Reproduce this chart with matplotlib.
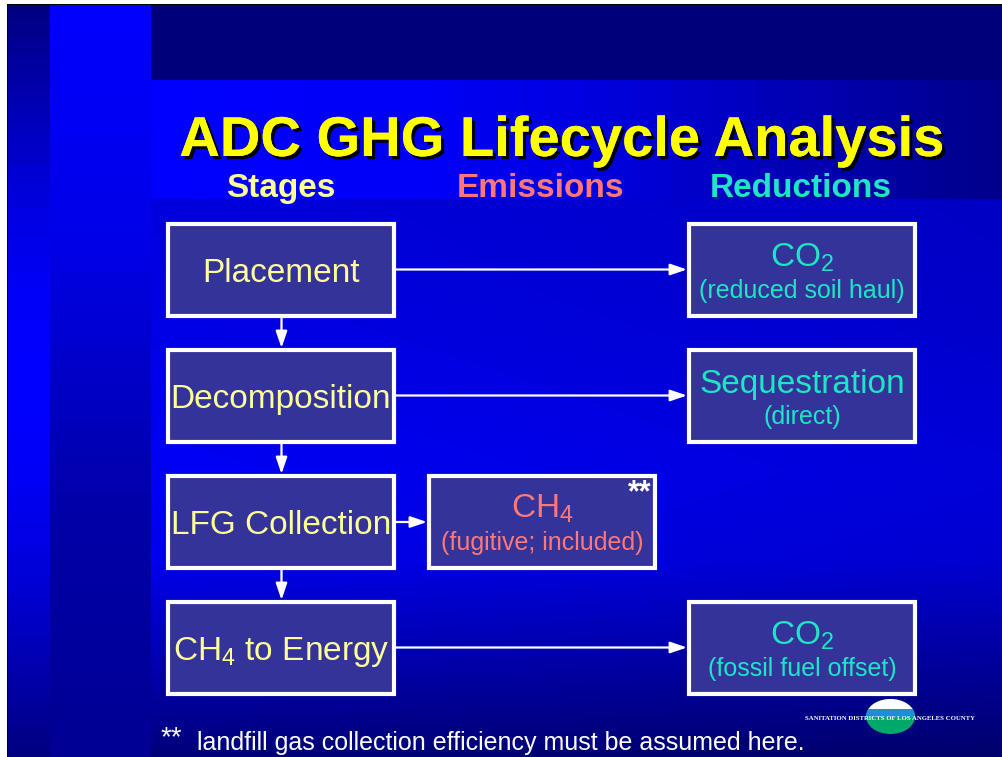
import numpy as np
import matplotlib
matplotlib.use('Agg')
import matplotlib.pyplot as plt
from matplotlib.patches import Rectangle, Ellipse
import matplotlib.patheffects as pe

plt.rcParams['font.family'] = ['Liberation Sans', 'DejaVu Sans']
plt.rcParams['mathtext.fontset'] = 'custom'
plt.rcParams['mathtext.rm'] = 'Liberation Sans'
plt.rcParams['mathtext.it'] = 'Liberation Sans:italic'
plt.rcParams['mathtext.bf'] = 'Liberation Sans:bold'
plt.rcParams['mathtext.default'] = 'regular'

# ---------------- content ----------------
title = "ADC GHG Lifecycle Analysis"
column_headers = ["Stages", "Emissions", "Reductions"]
header_colors = ["#FFFF99", "#FF7777", "#1EE6C4"]
stage_labels = ["Placement", "Decomposition", "LFG Collection", "CH$_4$ to Energy"]
emission_rows = [2]
emission_main = ["CH$_4$"]
emission_sub = ["(fugitive; included)"]
reduction_rows = [0, 1, 3]
reduction_main = ["CO$_2$", "Sequestration", "CO$_2$"]
reduction_sub = ["(reduced soil haul)", "(direct)", "(fossil fuel offset)"]
footnote_mark = "**"
footnote = "landfill gas collection efficiency must be assumed here."
logo_text = "SANITATION DISTRICTS OF LOS ANGELES COUNTY"

# ---------------- layout / style ----------------
W, H = 1003, 757
row_tops = [222, 348, 474, 600]
col_lefts = [166, 427, 687]
box_w, box_h = 230, 96
box_fill = "#333399"
stage_color = "#FFFF99"
emis_color = "#FF7777"
red_color = "#1EE6C4"

fig = plt.figure(figsize=(W / 100, H / 100), dpi=100)
ax = fig.add_axes([0, 0, 1, 1])
ax.set_xlim(0, W)
ax.set_ylim(H, 0)
ax.axis('off')

# ---------------- background ----------------
yy = np.arange(H)[:, None] + 0.5
xx = np.arange(W)[None, :] + 0.5
b = np.zeros((H, W))
left_strip = 128 + 127 * np.sin(np.pi * (yy - 4) / 753)
mid_strip = np.interp(yy, [0, 240, 500, 757], [255, 232, 170, 148])
top_band = np.full((H, 1), 122.0)
title_band = np.interp(xx, [151, 420, 600, 800, 1003], [255, 248, 222, 180, 138])
main = np.interp(yy, [199, 300, 470, 560, 757], [222, 228, 246, 236, 122]) * (1 - 0.12 * (xx - 151) / 852)

Y = np.broadcast_to(yy, (H, W))
X = np.broadcast_to(xx, (H, W))
b = np.where(X < 50, np.broadcast_to(left_strip, (H, W)), b)
b = np.where((X >= 50) & (X < 151), np.broadcast_to(mid_strip, (H, W)), b)
b = np.where((X >= 151) & (Y < 80), np.broadcast_to(top_band, (H, W)), b)
b = np.where((X >= 151) & (Y >= 80) & (Y < 199), np.broadcast_to(title_band, (H, W)), b)
b = np.where((X >= 151) & (Y >= 199), main, b)

img = np.zeros((H, W, 3))
img[..., 2] = np.clip(b, 0, 255) / 255.0
img[:4, :, :] = 1.0
img[:, :7, :] = 1.0
img[4, 7:, :] = 0.0
img[4:, 7, :] = 0.0
ax.imshow(img, extent=(0, W, H, 0), interpolation='nearest', aspect='auto', zorder=0)

# ---------------- title ----------------
ax.text(562, 156, title, color="#FFFF00", fontsize=40.4, fontweight='bold',
        ha='center', va='baseline', zorder=5,
        path_effects=[pe.withSimplePatchShadow(offset=(2.3, -2.3), shadow_rgbFace='black', alpha=1.0), pe.Normal()])
for cx, txt, col in zip([281, 541, 801], column_headers, header_colors):
    ax.text(cx, 197, txt, color=col, fontsize=24, fontweight='bold', ha='center', va='baseline', zorder=5)


def box(x, y):
    ax.add_patch(Rectangle((x + 2, y + 2), box_w - 4, box_h - 4, facecolor=box_fill,
                           edgecolor='white', linewidth=3, zorder=3))


def arrow(x0, y0, x1, y1, scale=10):
    ax.annotate('', xy=(x1, y1), xytext=(x0, y0),
                arrowprops=dict(arrowstyle='-|>,head_length=1.0,head_width=0.34', mutation_scale=scale,
                                color='white', lw=1.6, shrinkA=0, shrinkB=0), zorder=2)


# stage boxes
for i, lab in enumerate(stage_labels):
    top = row_tops[i]
    box(col_lefts[0], top)
    ax.text(col_lefts[0] + box_w / 2, top + box_h / 2 + 12, lab, color=stage_color, fontsize=24,
            ha='center', va='baseline', zorder=4)
    if i < len(stage_labels) - 1:
        arrow(col_lefts[0] + box_w / 2 + 0.5, top + box_h, col_lefts[0] + box_w / 2 + 0.5, row_tops[i + 1])

# emissions
for r, m, s in zip(emission_rows, emission_main, emission_sub):
    top = row_tops[r]
    box(col_lefts[1], top)
    arrow(col_lefts[0] + box_w, top + box_h / 2, col_lefts[1], top + box_h / 2)
    ax.text(col_lefts[1] + box_w / 2, top + 44, m, color=emis_color, fontsize=24, ha='center', va='baseline', zorder=4)
    ax.text(col_lefts[1] + box_w / 2, top + 76, s, color=emis_color, fontsize=18, ha='center', va='baseline', zorder=4)
    ax.text(col_lefts[1] + box_w - 6, top + 27, footnote_mark, color='white', fontsize=22, fontweight='bold',
            ha='right', va='baseline', zorder=4)

# reductions
for r, m, s in zip(reduction_rows, reduction_main, reduction_sub):
    top = row_tops[r]
    box(col_lefts[2], top)
    arrow(col_lefts[0] + box_w, top + box_h / 2 - 0.5, col_lefts[2], top + box_h / 2 - 0.5)
    ax.text(col_lefts[2] + box_w / 2, top + 45, m, color=red_color, fontsize=24, ha='center', va='baseline', zorder=4)
    ax.text(col_lefts[2] + box_w / 2, top + 76, s, color=red_color, fontsize=18, ha='center', va='baseline', zorder=4)

# footnote
ax.text(161, 745, footnote_mark, color='white', fontsize=20, ha='left', va='baseline', zorder=4)
ax.text(197, 750, footnote, color='white', fontsize=18, ha='left', va='baseline', zorder=4)

# logo
ell = Ellipse((890.5, 716.5), 49, 35, facecolor='#00A86B', edgecolor='none', zorder=4)
ax.add_patch(ell)
for (y0, h, c) in [(698, 11, 'white'), (709, 8, '#1E8FD6')]:
    rp = Rectangle((860, y0), 62, h, facecolor=c, edgecolor='none', zorder=5)
    ax.add_patch(rp)
    rp.set_clip_path(ell)
ax.text(890, 718.5, logo_text, color='white', fontsize=4.9, fontweight='bold', family='Liberation Serif',
        ha='center', va='center', zorder=6)

fig.savefig('out.png', dpi=100)
